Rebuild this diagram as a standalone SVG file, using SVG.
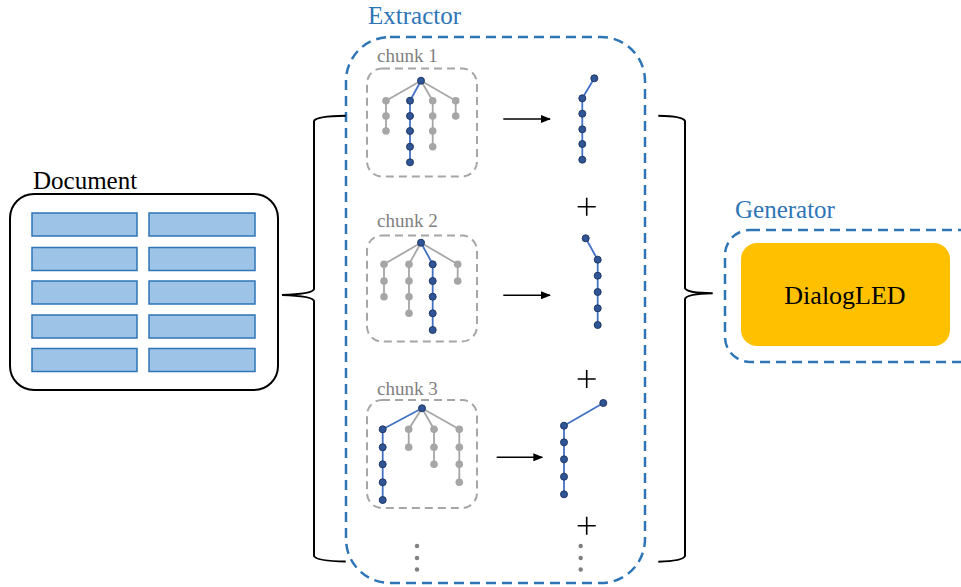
<svg xmlns="http://www.w3.org/2000/svg" width="961" height="587" viewBox="0 0 961 587">
<defs>
<marker id="ah" markerWidth="10" markerHeight="8" refX="9" refY="4" orient="auto" markerUnits="userSpaceOnUse">
<path d="M0,0 L10,4 L0,8 Z" fill="#000"/>
</marker>
</defs>
<style>
text{font-family:'Liberation Serif','Times New Roman',Tinos,'DejaVu Serif',serif}
.title{font-size:25px}
.blue{fill:#2E75B6}
.chunk{font-size:19px;fill:#7F7F7F}
.bdash{fill:none;stroke:#2E75B6;stroke-width:2.5;stroke-dasharray:10 6}
.gdash{fill:none;stroke:#A6A6A6;stroke-width:2;stroke-dasharray:8 5}
.bar{fill:#9DC3E6;stroke:#2E75B6;stroke-width:1.5}
.ge{stroke:#A6A6A6;stroke-width:1.8;fill:none}
.be{stroke:#4472C4;stroke-width:1.8;fill:none}
.gn{fill:#A6A6A6}
.bn{fill:#2F5597;stroke:#1F3864;stroke-width:1}
.br{fill:none;stroke:#000;stroke-width:2}
.arr{stroke:#000;stroke-width:1.6;fill:none}
.plus{stroke:#000;stroke-width:1.6}
.dot{fill:#7F7F7F}
</style>
<rect width="961" height="587" fill="#fff"/>

<g id="document">
<text class="title" x="33" y="189" fill="#000">Document</text>
<rect x="10" y="194" width="268" height="196" rx="24" fill="#fff" stroke="#000" stroke-width="2"/>
<rect class="bar" x="32" y="213" width="105" height="23"/>
<rect class="bar" x="149" y="213" width="106" height="23"/>
<rect class="bar" x="32" y="247.5" width="105" height="23"/>
<rect class="bar" x="149" y="247.5" width="106" height="23"/>
<rect class="bar" x="32" y="281" width="105" height="23"/>
<rect class="bar" x="149" y="281" width="106" height="23"/>
<rect class="bar" x="32" y="315" width="105" height="23"/>
<rect class="bar" x="149" y="315" width="106" height="23"/>
<rect class="bar" x="32" y="348.5" width="105" height="23"/>
<rect class="bar" x="149" y="348.5" width="106" height="23"/>
</g>

<g id="extractor">
<text class="title blue" x="368" y="24">Extractor</text>
<rect class="bdash" x="346" y="37" width="299" height="546" rx="44"/>
</g>

<g id="chunk1">
<text class="chunk" x="377" y="62">chunk 1</text>
<rect class="gdash" x="367" y="68.5" width="110" height="108" rx="15"/>
<path class="ge" d="M421,80.7 L386,100.7 M421,80.7 L432.7,100.7 M421,80.7 L455.7,100.7 M386,100.7 V131 M432.7,100.7 V146.7 M455.7,100.7 V116"/>
<path class="be" d="M421,80.7 L410,100.7 V162.3"/>
<g class="gn">
<circle cx="386" cy="100.7" r="3.8"/><circle cx="386" cy="116" r="3.8"/><circle cx="386" cy="131" r="3.8"/>
<circle cx="432.7" cy="100.7" r="3.8"/><circle cx="432.7" cy="116" r="3.8"/><circle cx="432.7" cy="131" r="3.8"/><circle cx="432.7" cy="146.7" r="3.8"/>
<circle cx="455.7" cy="100.7" r="3.8"/><circle cx="455.7" cy="116" r="3.8"/>
</g>
<g class="bn">
<circle cx="421" cy="80.7" r="3.5"/>
<circle cx="410" cy="100.7" r="3.5"/><circle cx="410" cy="116" r="3.5"/><circle cx="410" cy="131" r="3.5"/><circle cx="410" cy="146.7" r="3.5"/><circle cx="410" cy="162.3" r="3.5"/>
</g>
</g>

<g id="chunk2">
<text class="chunk" x="377" y="227">chunk 2</text>
<rect class="gdash" x="367" y="235.5" width="110" height="106" rx="15"/>
<path class="ge" d="M421,242.7 L384,264.3 M421,242.7 L409,264.3 M421,242.7 L457.7,264.3 M384,264.3 V296.7 M409,264.3 V313.3 M457.7,264.3 V281"/>
<path class="be" d="M421,242.7 L432.7,264.3 V330"/>
<g class="gn">
<circle cx="384" cy="264.3" r="3.8"/><circle cx="384" cy="281" r="3.8"/><circle cx="384" cy="296.7" r="3.8"/>
<circle cx="409" cy="264.3" r="3.8"/><circle cx="409" cy="281" r="3.8"/><circle cx="409" cy="296.7" r="3.8"/><circle cx="409" cy="313.3" r="3.8"/>
<circle cx="457.7" cy="264.3" r="3.8"/><circle cx="457.7" cy="281" r="3.8"/>
</g>
<g class="bn">
<circle cx="421" cy="242.7" r="3.5"/>
<circle cx="432.7" cy="264.3" r="3.5"/><circle cx="432.7" cy="281" r="3.5"/><circle cx="432.7" cy="296.7" r="3.5"/><circle cx="432.7" cy="313.3" r="3.5"/><circle cx="432.7" cy="330" r="3.5"/>
</g>
</g>

<g id="chunk3">
<text class="chunk" x="377" y="395">chunk 3</text>
<rect class="gdash" x="367" y="400" width="110" height="108" rx="15"/>
<path class="ge" d="M422,408.3 L408.7,429.3 M422,408.3 L434,429.3 M422,408.3 L459.3,429.3 M408.7,429.3 V447.3 M434,429.3 V464.3 M459.3,429.3 V482.3"/>
<path class="be" d="M422,408.3 L382.7,429.3 V500"/>
<g class="gn">
<circle cx="408.7" cy="429.3" r="3.8"/><circle cx="408.7" cy="447.3" r="3.8"/>
<circle cx="434" cy="429.3" r="3.8"/><circle cx="434" cy="447.3" r="3.8"/><circle cx="434" cy="464.3" r="3.8"/>
<circle cx="459.3" cy="429.3" r="3.8"/><circle cx="459.3" cy="447.3" r="3.8"/><circle cx="459.3" cy="464.3" r="3.8"/><circle cx="459.3" cy="482.3" r="3.8"/>
</g>
<g class="bn">
<circle cx="422" cy="408.3" r="3.5"/>
<circle cx="382.7" cy="429.3" r="3.5"/><circle cx="382.7" cy="447.3" r="3.5"/><circle cx="382.7" cy="464.3" r="3.5"/><circle cx="382.7" cy="482.3" r="3.5"/><circle cx="382.7" cy="500" r="3.5"/>
</g>
</g>

<g id="path1">
<path class="be" d="M594.3,78.3 L582.3,98.3 V159.7"/>
<g class="bn">
<circle cx="594.3" cy="78.3" r="3.5"/><circle cx="582.3" cy="98.3" r="3.5"/><circle cx="582.3" cy="113.7" r="3.5"/><circle cx="582.3" cy="129.3" r="3.5"/><circle cx="582.3" cy="144" r="3.5"/><circle cx="582.3" cy="159.7" r="3.5"/>
</g>
</g>

<g id="path2">
<path class="be" d="M585.7,238.3 L597.7,259.7 V325"/>
<g class="bn">
<circle cx="585.7" cy="238.3" r="3.5"/><circle cx="597.7" cy="259.7" r="3.5"/><circle cx="597.7" cy="275.7" r="3.5"/><circle cx="597.7" cy="292" r="3.5"/><circle cx="597.7" cy="308.3" r="3.5"/><circle cx="597.7" cy="325" r="3.5"/>
</g>
</g>

<g id="path3">
<path class="be" d="M603.3,403 L564,425.7 V494.3"/>
<g class="bn">
<circle cx="603.3" cy="403" r="3.5"/><circle cx="564" cy="425.7" r="3.5"/><circle cx="564" cy="442.3" r="3.5"/><circle cx="564" cy="459.3" r="3.5"/><circle cx="564" cy="476.7" r="3.5"/><circle cx="564" cy="494.3" r="3.5"/>
</g>
</g>

<g id="plus-signs">
<path class="plus" d="M577.7,206.7 H595.7 M586.7,197.7 V215.7"/>
<path class="plus" d="M577.7,379 H595.7 M586.7,370 V388"/>
<path class="plus" d="M577.7,525.7 H595.7 M586.7,516.7 V534.7"/>
</g>

<g id="ellipsis">
<circle class="dot" cx="417" cy="546" r="2.2"/><circle class="dot" cx="417" cy="558" r="2.2"/><circle class="dot" cx="417" cy="569.5" r="2.2"/>
<circle class="dot" cx="580.7" cy="546" r="2.2"/><circle class="dot" cx="580.7" cy="558" r="2.2"/><circle class="dot" cx="580.7" cy="569.5" r="2.2"/>
</g>

<g id="generator">
<text class="title blue" x="735" y="218">Generator</text>
<rect class="bdash" x="725" y="230" width="260" height="132" rx="25"/>
<rect x="741" y="243" width="209" height="103" rx="16" fill="#FFC000"/>
<text x="845" y="304" text-anchor="middle" font-size="26" fill="#000">DialogLED</text>
</g>

<g id="connectors">
<path class="br" d="M345.7,115.7 Q316,116 314,121 V289 Q313,294 282,295 Q313,296 314,301 V556 Q316,561 345.7,561.5"/>
<path class="br" d="M658.3,115.7 Q683,116 685,121 V288 Q686,293 712.7,293.3 Q686,294 685,299 V556 Q683,561 658.3,561.7"/>
<line class="arr" x1="503.3" y1="119" x2="550" y2="119" marker-end="url(#ah)"/>
<line class="arr" x1="503.3" y1="295.3" x2="550" y2="295.3" marker-end="url(#ah)"/>
<line class="arr" x1="496.7" y1="457.3" x2="542.3" y2="457.3" marker-end="url(#ah)"/>
</g>
</svg>
